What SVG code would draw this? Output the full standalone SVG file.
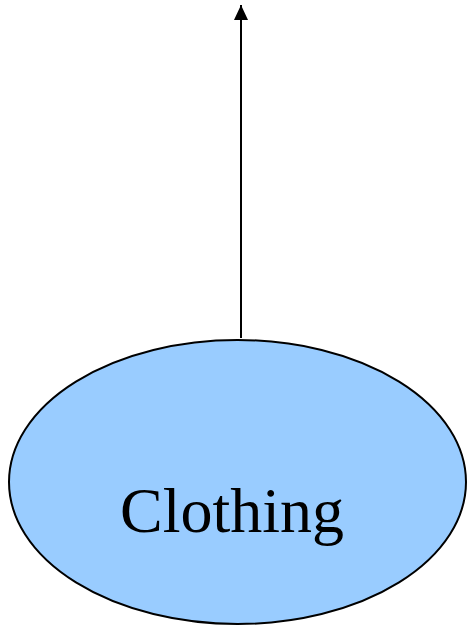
<svg xmlns="http://www.w3.org/2000/svg" width="467" height="627" viewBox="0 0 467 627">
<style>
.node{fill:#99CCFF;stroke:#000;stroke-width:2}
.lbl{font-family:"Liberation Serif","Times New Roman",serif;font-size:64px;fill:#000;text-anchor:middle}
.edge{stroke:#000;stroke-width:2;fill:none}
</style>
<defs>
<marker id="arr" markerUnits="userSpaceOnUse" markerWidth="16" markerHeight="16" refX="15" refY="7" orient="auto">
<path d="M0,0 L15,7 L0,14 Z" fill="#000"/>
</marker>
</defs>
<g id="connectors">
<line class="edge" x1="241" y1="338" x2="241" y2="5" marker-end="url(#arr)"/>
</g>
<g id="clothing">
<ellipse class="node" cx="237.5" cy="482" rx="228.5" ry="142"/>
<text class="lbl" x="232" y="532">Clothing</text>
</g>
</svg>
